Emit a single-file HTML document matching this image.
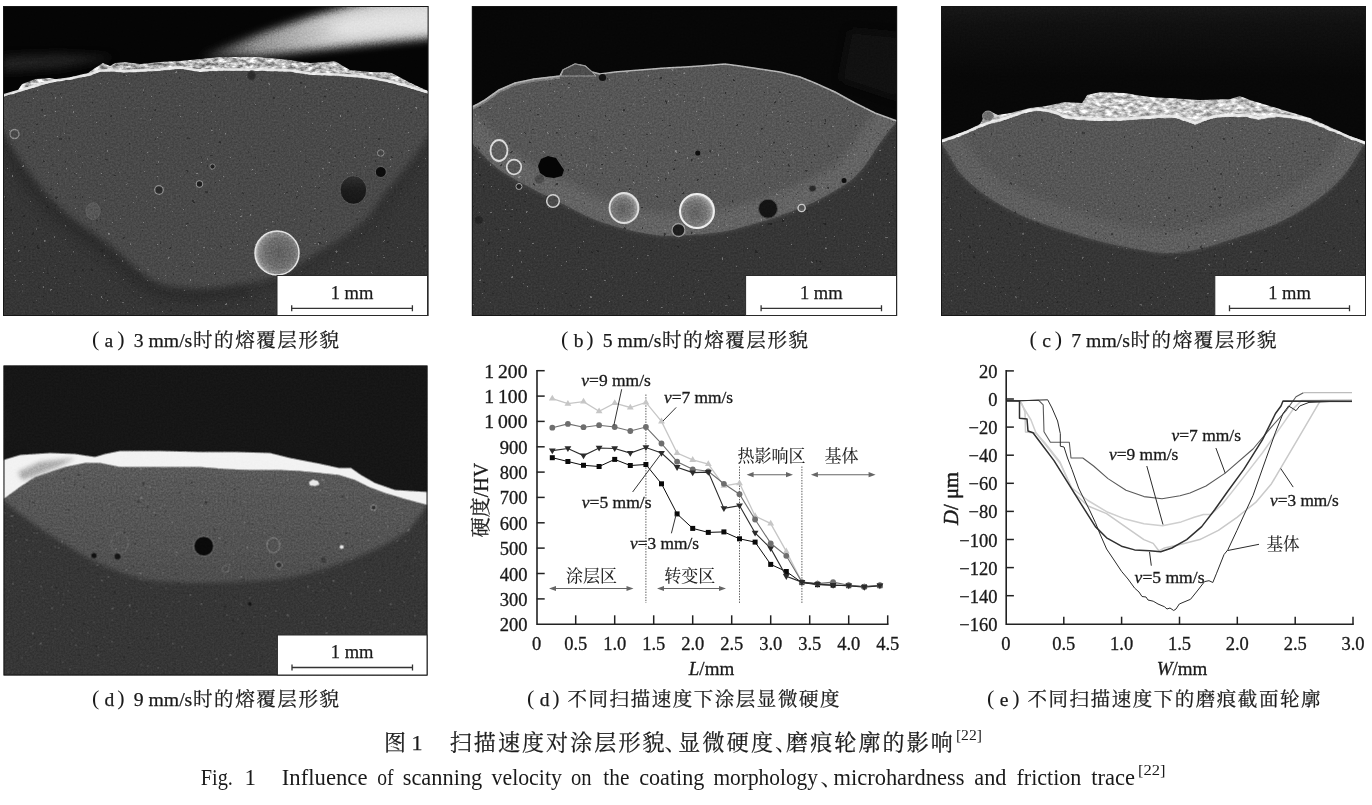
<!DOCTYPE html>
<html lang="zh"><head><meta charset="utf-8"><title>图1 扫描速度对涂层形貌、显微硬度、磨痕轮廓的影响</title>
<style>
html,body{margin:0;padding:0;background:#fff;}
body{width:1372px;height:805px;overflow:hidden;}
svg{display:block;}
text{font-family:"Liberation Serif","Noto Serif CJK SC",serif;fill:#1a1a1a;}
.it{font-style:italic;}
</style></head><body>
<svg width="1372" height="805" viewBox="0 0 1372 805">
<defs>
<clipPath id="clipA"><rect x="3" y="6" width="425.6" height="310"/></clipPath>
<clipPath id="clipB"><rect x="472" y="6" width="425" height="310"/></clipPath>
<clipPath id="clipC"><rect x="941" y="6" width="425" height="310"/></clipPath>
<clipPath id="clipD"><rect x="3.5" y="365.5" width="424" height="310"/></clipPath>
<linearGradient id="topC" x1="0" y1="0" x2="0" y2="1"><stop offset="0" stop-color="#181818"/><stop offset="0.25" stop-color="#111"/><stop offset="1" stop-color="#080808"/></linearGradient>
<linearGradient id="cladD" gradientUnits="userSpaceOnUse" x1="0" y1="465" x2="0" y2="585"><stop offset="0" stop-color="#5b5b5b"/><stop offset="0.6" stop-color="#535353"/><stop offset="1" stop-color="#4f4f4f"/></linearGradient>
<filter id="blur06" x="-5%" y="-50%" width="110%" height="200%"><feGaussianBlur stdDeviation="0.6"/></filter>
<filter id="blur2" x="-10%" y="-10%" width="120%" height="120%"><feGaussianBlur stdDeviation="2"/></filter>
<filter id="blur3" x="-10%" y="-10%" width="120%" height="120%"><feGaussianBlur stdDeviation="3"/></filter>
<filter id="blur4" x="-20%" y="-40%" width="140%" height="180%"><feGaussianBlur stdDeviation="4"/></filter>
<filter id="blur5" x="-20%" y="-40%" width="140%" height="180%"><feGaussianBlur stdDeviation="5"/></filter>
<filter id="mottle" x="0" y="0" width="100%" height="100%" color-interpolation-filters="sRGB">
 <feTurbulence type="fractalNoise" baseFrequency="0.16 0.3" numOctaves="3" seed="7" result="n"/>
 <feColorMatrix in="n" type="matrix" values="1.9 0 0 0 -0.42  1.9 0 0 0 -0.42  1.9 0 0 0 -0.42  0 0 0 0 1" result="g"/>
 <feBlend in="g" in2="SourceGraphic" mode="overlay" result="b"/>
 <feComposite in="b" in2="SourceGraphic" operator="in"/>
</filter>
<filter id="grain" x="0" y="0" width="100%" height="100%" color-interpolation-filters="sRGB">
 <feTurbulence type="fractalNoise" baseFrequency="0.55" numOctaves="2" seed="11" result="n"/>
 <feColorMatrix in="n" type="matrix" values="0.24 0 0 0 0.38  0.24 0 0 0 0.38  0.24 0 0 0 0.38  0 0 0 0 1" result="g"/>
 <feBlend in="g" in2="SourceGraphic" mode="overlay" result="b"/>
 <feComposite in="b" in2="SourceGraphic" operator="in"/>
</filter>
<filter id="specW" x="0" y="0" width="100%" height="100%" color-interpolation-filters="sRGB">
 <feTurbulence type="fractalNoise" baseFrequency="0.28" numOctaves="2" seed="5" result="n"/>
 <feColorMatrix in="n" type="matrix" values="0 0 0 0 0.8  0 0 0 0 0.8  0 0 0 0 0.8  30 0 0 0 -23.4" result="d"/>
 <feComposite in="d" in2="SourceGraphic" operator="in"/>
</filter>
<filter id="specK" x="0" y="0" width="100%" height="100%" color-interpolation-filters="sRGB">
 <feTurbulence type="fractalNoise" baseFrequency="0.22" numOctaves="2" seed="23" result="n"/>
 <feColorMatrix in="n" type="matrix" values="0 0 0 0 0.1  0 0 0 0 0.1  0 0 0 0 0.1  0 -30 0 0 6.9" result="d"/>
 <feComposite in="d" in2="SourceGraphic" operator="in"/>
</filter>
<radialGradient id="sphA" cx="0.55" cy="0.5" r="0.55"><stop offset="0" stop-color="#5e5e5e"/><stop offset="0.6" stop-color="#707070"/><stop offset="0.85" stop-color="#8c8c8c"/><stop offset="1" stop-color="#cfcfcf"/></radialGradient>
<linearGradient id="streakA" gradientUnits="userSpaceOnUse" x1="195" y1="0" x2="330" y2="0"><stop offset="0" stop-color="#4a4a4a" stop-opacity=".6"/><stop offset="0.45" stop-color="#969696" stop-opacity=".95"/><stop offset="1" stop-color="#cdcdcd"/></linearGradient>
<radialGradient id="sphB" cx="0.45" cy="0.55" r="0.55"><stop offset="0" stop-color="#606060"/><stop offset="0.65" stop-color="#787878"/><stop offset="0.88" stop-color="#9a9a9a"/><stop offset="1" stop-color="#d8d8d8"/></radialGradient>
<linearGradient id="holeA" x1="0" y1="0" x2="0" y2="1"><stop offset="0" stop-color="#303030"/><stop offset="0.5" stop-color="#1c1c1c"/><stop offset="1" stop-color="#161616"/></linearGradient>
</defs>
<rect width="1372" height="805" fill="#fff"/>
<g filter="url(#grain)"><g clip-path="url(#clipA)"><rect x="3" y="6" width="425" height="310" fill="#050505"/><path d="M3,56 L60,54 L115,57 L60,68 L3,72Z" fill="#2a2a2a" filter="url(#blur4)" opacity=".75"/><path d="M200,58 L223,48 L268,31 L313,16 L350,6 L380,0 L445,-4 L445,37 L380,43 L313,50 L260,56Z" fill="url(#streakA)" filter="url(#blur4)"/><path d="M325,30 L350,17 L390,10 L445,6 L445,31 L395,33 L350,37Z" fill="#fff" filter="url(#blur5)" opacity=".42"/><path d="M3,97 L20,92 L40,86 L55,82 L70,80 L90,76 L100,72 L115,72 L125,73 L140,72 L160,71 L180,69 L200,72 L220,71 L260,71 L290,72 L310,75 L335,76 L350,77 L370,79 L390,83 L405,87 L428,94 L428,316 L3,316Z" fill="#363636"/><clipPath id="bodyA"><path d="M3,97 L20,92 L40,86 L55,82 L70,80 L90,76 L100,72 L115,72 L125,73 L140,72 L160,71 L180,69 L200,72 L220,71 L260,71 L290,72 L310,75 L335,76 L350,77 L370,79 L390,83 L405,87 L428,94 L428,316 L3,316Z"/></clipPath><g clip-path="url(#bodyA)"><path d="M-12,112 C-9.5,115.5 -0.2,128.3 3,133 C6.2,137.7 3.8,134.3 7.5,140 C11.2,145.7 18.8,158.3 25,167 C31.2,175.7 38.4,184.5 45,192 C51.6,199.5 57.6,205.8 64.6,212 C71.6,218.2 79.1,223.2 87,229 C94.9,234.8 104.2,240.7 112,247 C119.8,253.3 127,261 134,266.7 C141,272.4 147.3,277.6 154,281 C160.7,284.4 164.5,285.8 174,287 C183.5,288.2 198.7,288.7 211,288 C223.3,287.3 241.8,283.8 248,283" fill="none" stroke="#2b2b2b" stroke-width="28" filter="url(#blur5)" opacity=".75"/><path d="M248,283 C252.5,282 266.2,280.3 275,277 C283.8,273.7 293.4,267.3 300.8,263 C308.2,258.7 312.7,255.3 319.7,251 C326.7,246.7 335.1,242.5 343,237 C350.9,231.5 360.2,225.1 367,218 C373.8,210.9 376.8,203.2 383.5,194.5 C390.2,185.8 399.9,175.1 407,166 C414.1,156.9 420.2,148.5 426,140 C431.8,131.5 439.3,119.2 442,115" fill="none" stroke="#2e2e2e" stroke-width="24" filter="url(#blur5)" opacity=".45"/><path d="M-12,112 C-9.5,115.5 -0.2,128.3 3,133 C6.2,137.7 3.8,134.3 7.5,140 C11.2,145.7 18.8,158.3 25,167 C31.2,175.7 38.4,184.5 45,192 C51.6,199.5 57.6,205.8 64.6,212 C71.6,218.2 79.1,223.2 87,229 C94.9,234.8 104.2,240.7 112,247 C119.8,253.3 127,261 134,266.7 C141,272.4 147.3,277.6 154,281 C160.7,284.4 164.5,285.8 174,287 C183.5,288.2 198.7,288.7 211,288 C223.3,287.3 237.3,284.8 248,283 C258.7,281.2 266.2,280.3 275,277 C283.8,273.7 293.4,267.3 300.8,263 C308.2,258.7 312.7,255.3 319.7,251 C326.7,246.7 335.1,242.5 343,237 C350.9,231.5 360.2,225.1 367,218 C373.8,210.9 376.8,203.2 383.5,194.5 C390.2,185.8 399.9,175.1 407,166 C414.1,156.9 420.2,148.5 426,140 C431.8,131.5 439.3,119.2 442,115 L442,0 L-12,0Z" fill="#4a4a4a" filter="url(#blur3)"/></g><path d="M3,97 L20,92 L40,86 L55,82 L70,80 L90,76 L100,72 L115,72 L125,73 L140,72 L160,71 L180,69 L200,72 L220,71 L260,71 L290,72 L310,75 L335,76 L350,77 L370,79 L390,83 L405,87 L428,94 L428,316 L3,316Z" fill="#fff" filter="url(#specW)" opacity=".38"/><path d="M3,97 L20,92 L40,86 L55,82 L70,80 L90,76 L100,72 L115,72 L125,73 L140,72 L160,71 L180,69 L200,72 L220,71 L260,71 L290,72 L310,75 L335,76 L350,77 L370,79 L390,83 L405,87 L428,94 L428,316 L3,316Z" fill="#fff" filter="url(#specK)" opacity=".5"/><path d="M3,96 L10,93 L18,90 L22,84 L35,79 L50,78 L60,80 L75,76 L88,73 L95,68 L103,63 L110,66 L115,63 L125,62 L140,64 L160,62 L180,61 L200,59 L220,57 L260,57 L290,60 L310,63 L325,62 L335,61 L343,66 L350,70 L370,72 L385,72 L392,73 L405,80 L415,85 L428,91 L428,94 L405,87 L390,83 L370,79 L350,77 L335,76 L310,75 L290,72 L260,71 L220,71 L200,72 L180,69 L160,71 L140,72 L125,73 L115,72 L100,72 L90,76 L70,80 L55,82 L40,86 L20,92 L3,97Z" fill="#b2b2b2" filter="url(#mottle)"/><path d="M3,95.4 L20,90.4 L40,84.4 L55,80.4 L70,78.4 L90,74.4 L100,70.4 L115,70.4 L125,71.4 L140,70.4 L160,69.4 L180,67.4 L200,70.4 L220,69.4 L260,69.4 L290,70.4 L310,73.4 L335,74.4 L350,75.4 L370,77.4 L390,81.4 L405,85.4 L428,92.4" fill="none" stroke="#ececec" stroke-width="2.2" filter="url(#blur06)" opacity=".9"/><ellipse cx="277" cy="253" rx="22" ry="22" fill="url(#sphA)" stroke="#e2e2e2" stroke-width="1.5" /><ellipse cx="353.4" cy="190" rx="13.3" ry="14.3" fill="url(#holeA)" stroke="#5a5a5a" stroke-width="0.8" /><ellipse cx="380.8" cy="172" rx="5.5" ry="5.5" fill="#0c0c0c" stroke="#6a6a6a" stroke-width="0.8" /><ellipse cx="380.8" cy="153" rx="3.3" ry="3.3" fill="#444" stroke="#8a8a8a" stroke-width="1" /><ellipse cx="14.5" cy="134" rx="4.5" ry="4.5" fill="#484848" stroke="#8a8a8a" stroke-width="1.3" /><ellipse cx="159" cy="190" rx="4.3" ry="4.3" fill="#2c2c2c" stroke="#8c8c8c" stroke-width="1.3" /><ellipse cx="199.5" cy="184" rx="3.2" ry="3.2" fill="#1e1e1e" stroke="#8c8c8c" stroke-width="1.1" /><ellipse cx="212.5" cy="166.5" rx="2.6" ry="2.6" fill="#222" stroke="#888" stroke-width="1" /><ellipse cx="251.5" cy="75.5" rx="4" ry="4.5" fill="#2c2c2c" stroke="#3a3a3a" stroke-width="1" /><ellipse cx="93" cy="211" rx="7" ry="8.5" fill="#575757" stroke="#5e5e5e" stroke-width="1" /></g><g clip-path="url(#clipB)"><rect x="472" y="6" width="425" height="310" fill="#070707"/><path d="M850,30 L900,35 L900,100 L840,80Z" fill="#141414" filter="url(#blur5)" opacity=".7"/><path d="M472,107 L478,104 L485,100 L499,90 L515,83 L534,79 L560,76 L563,70 L575,64 L585,66 L592,72 L600,74 L615,72 L640,70 L665,68 L685,67 L700,66 L725,64 L740,66 L760,69 L780,72 L800,77 L815,83 L835,92 L855,103 L875,113 L897,121 L897,316 L472,316Z" fill="#363636"/><clipPath id="bodyB"><path d="M472,107 L478,104 L485,100 L499,90 L515,83 L534,79 L560,76 L563,70 L575,64 L585,66 L592,72 L600,74 L615,72 L640,70 L665,68 L685,67 L700,66 L725,64 L740,66 L760,69 L780,72 L800,77 L815,83 L835,92 L855,103 L875,113 L897,121 L897,316 L472,316Z"/></clipPath><g clip-path="url(#bodyB)"><path d="M458,128 C460.3,130.5 469.2,139.9 472,143 C474.8,146.1 470.8,142.3 475,146.5 C479.2,150.7 488,161.2 497,168 C506,174.8 518.3,181.2 529,187 C539.7,192.8 550.3,197.7 561,203 C571.7,208.3 582.3,214.7 593,219 C603.7,223.3 614.5,226.3 625,229 C635.5,231.7 646.8,233.9 656,235 C665.2,236.1 669.2,236 680,235.5 C690.8,235 709.7,233.7 721,232 C732.3,230.3 739.8,227.7 748,225.5 C756.2,223.3 762.2,221.6 770,219 C777.8,216.4 787,213.2 795,210 C803,206.8 811.3,203.2 818,200 C824.7,196.8 829.7,193.7 835,190.5 C840.3,187.3 845.5,184.6 850,181 C854.5,177.4 858.3,173.3 862,169 C865.7,164.7 868.2,160.5 872,155 C875.8,149.5 880.8,141.7 885,136 C889.2,130.3 893.5,126 897,121 C900.5,116 904.5,108.5 906,106 L905,0 L460,0Z" fill="#575757" filter="url(#blur2)"/><clipPath id="bowlB"><path d="M458,128 C460.3,130.5 469.2,139.9 472,143 C474.8,146.1 470.8,142.3 475,146.5 C479.2,150.7 488,161.2 497,168 C506,174.8 518.3,181.2 529,187 C539.7,192.8 550.3,197.7 561,203 C571.7,208.3 582.3,214.7 593,219 C603.7,223.3 614.5,226.3 625,229 C635.5,231.7 646.8,233.9 656,235 C665.2,236.1 669.2,236 680,235.5 C690.8,235 709.7,233.7 721,232 C732.3,230.3 739.8,227.7 748,225.5 C756.2,223.3 762.2,221.6 770,219 C777.8,216.4 787,213.2 795,210 C803,206.8 811.3,203.2 818,200 C824.7,196.8 829.7,193.7 835,190.5 C840.3,187.3 845.5,184.6 850,181 C854.5,177.4 858.3,173.3 862,169 C865.7,164.7 868.2,160.5 872,155 C875.8,149.5 880.8,141.7 885,136 C889.2,130.3 893.5,126 897,121 C900.5,116 904.5,108.5 906,106 L905,0 L460,0Z"/></clipPath><g clip-path="url(#bowlB)"><path d="M458,128 C460.3,130.5 469.2,139.9 472,143 C474.8,146.1 470.8,142.3 475,146.5 C479.2,150.7 488,161.2 497,168 C506,174.8 518.3,181.2 529,187 C539.7,192.8 550.3,197.7 561,203 C571.7,208.3 582.3,214.7 593,219 C603.7,223.3 614.5,226.3 625,229 C635.5,231.7 646.8,233.9 656,235 C665.2,236.1 669.2,236 680,235.5 C690.8,235 709.7,233.7 721,232 C732.3,230.3 739.8,227.7 748,225.5 C756.2,223.3 762.2,221.6 770,219 C777.8,216.4 787,213.2 795,210 C803,206.8 811.3,203.2 818,200 C824.7,196.8 829.7,193.7 835,190.5 C840.3,187.3 845.5,184.6 850,181 C854.5,177.4 858.3,173.3 862,169 C865.7,164.7 868.2,160.5 872,155 C875.8,149.5 880.8,141.7 885,136 C889.2,130.3 893.5,126 897,121 C900.5,116 904.5,108.5 906,106" fill="none" stroke="#6a6a6a" stroke-width="44" filter="url(#blur5)" opacity=".7"/></g></g><path d="M472,107 L478,104 L485,100 L499,90 L515,83 L534,79 L560,76 L563,70 L575,64 L585,66 L592,72 L600,74 L615,72 L640,70 L665,68 L685,67 L700,66 L725,64 L740,66 L760,69 L780,72 L800,77 L815,83 L835,92 L855,103 L875,113 L897,121 L897,316 L472,316Z" fill="#fff" filter="url(#specW)" opacity=".38"/><path d="M472,107 L478,104 L485,100 L499,90 L515,83 L534,79 L560,76 L563,70 L575,64 L585,66 L592,72 L600,74 L615,72 L640,70 L665,68 L685,67 L700,66 L725,64 L740,66 L760,69 L780,72 L800,77 L815,83 L835,92 L855,103 L875,113 L897,121 L897,316 L472,316Z" fill="#fff" filter="url(#specK)" opacity=".6"/><path d="M472,108.2 L478,105.2 L485,101.2 L499,91.2 L515,84.2 L534,80.2 L560,77.2" fill="none" stroke="#8c8c8c" stroke-width="3.2" stroke-linejoin="round" opacity=".8"/><path d="M472,107 L478,104 L485,100 L499,90 L515,83 L534,79 L560,76 L563,70 L575,64 L585,66 L592,72 L600,74 L615,72 L640,70 L665,68 L685,67 L700,66 L725,64 L740,66 L760,69 L780,72 L800,77 L815,83 L835,92 L855,103 L875,113 L897,121" fill="none" stroke="#b5b5b5" stroke-width="1.6"/><path d="M561,76 L563,70 L575,64 L585,66 L592,72 L596,76Z" fill="#4c4c4c" stroke="#9a9a9a" stroke-width="1"/><circle cx="602.5" cy="77.5" r="3.6" fill="#111"/><ellipse cx="499" cy="150.5" rx="8.5" ry="10.5" fill="#5c5c5c" stroke="#dcdcdc" stroke-width="1.8" /><ellipse cx="514" cy="167" rx="7.3" ry="7.3" fill="#565656" stroke="#d8d8d8" stroke-width="1.7" /><path d="M541,159 L548,156 L556,158 L560,164 L564,170 L562,176 L554,178 L546,177 L540,173 L538,166Z" fill="#050505"/><ellipse cx="519" cy="186.5" rx="3" ry="3" fill="#222" stroke="#aaa" stroke-width="1" /><ellipse cx="553" cy="201" rx="6.3" ry="6.3" fill="#4a4a4a" stroke="#d0d0d0" stroke-width="1.5" /><ellipse cx="624" cy="208" rx="14.5" ry="15" fill="url(#sphB)" stroke="#e0e0e0" stroke-width="1.8" /><ellipse cx="697" cy="211" rx="17" ry="17" fill="url(#sphB)" stroke="#eeeeee" stroke-width="2" /><ellipse cx="678.5" cy="230" rx="6.5" ry="6.5" fill="#1e1e1e" stroke="#999" stroke-width="1.3" /><circle cx="478.7" cy="220" r="4" fill="#262626"/><ellipse cx="768" cy="208.7" rx="9.5" ry="9.5" fill="#141414" stroke="#4a4a4a" stroke-width="1" /><ellipse cx="801.6" cy="208" rx="3.6" ry="3.6" fill="#555" stroke="#ccc" stroke-width="1.4" /><ellipse cx="812.5" cy="188.5" rx="3.6" ry="3.2" fill="#2a2a2a" stroke="#555" stroke-width="0.8" /><circle cx="697.8" cy="153" r="2.6" fill="#0e0e0e"/><circle cx="844" cy="180.5" r="2.5" fill="#0e0e0e"/><circle cx="594" cy="139" r="3.5" fill="#505050"/><circle cx="539.5" cy="179" r="4.5" fill="#4a4a4a"/><circle cx="746" cy="169" r="5.5" fill="#5a5a5a"/></g><g clip-path="url(#clipC)"><rect x="941" y="6" width="425" height="310" fill="#080808"/><rect x="941" y="6" width="425" height="70" fill="url(#topC)"/><path d="M941,143 L950,140 L960,136.5 L970,132.5 L980,128 L990,124 L1000,122 L1010,118.5 L1020,115 L1030,112 L1040,111 L1050,113 L1056,114.5 L1065,119 L1091,121 L1120,121 L1150,119 L1175,118 L1195,125 L1215,118 L1245,117 L1258,120 L1278,117 L1290,118.5 L1300,120.5 L1310,123 L1320,127 L1330,131 L1340,135 L1350,139.5 L1366,145 L1366,316 L941,316Z" fill="#363636"/><clipPath id="bodyC"><path d="M941,143 L950,140 L960,136.5 L970,132.5 L980,128 L990,124 L1000,122 L1010,118.5 L1020,115 L1030,112 L1040,111 L1050,113 L1056,114.5 L1065,119 L1091,121 L1120,121 L1150,119 L1175,118 L1195,125 L1215,118 L1245,117 L1258,120 L1278,117 L1290,118.5 L1300,120.5 L1310,123 L1320,127 L1330,131 L1340,135 L1350,139.5 L1366,145 L1366,316 L941,316Z"/></clipPath><g clip-path="url(#bodyC)"><path d="M930,125 C931.8,128 938.3,138.8 941,143 C943.7,147.2 942.5,144.7 946,150 C949.5,155.3 955,167.2 962,175 C969,182.8 977.8,190.2 988,197 C998.2,203.8 1010.2,210.3 1023,216 C1035.8,221.7 1051.7,226.7 1065,231 C1078.3,235.3 1090.2,238.8 1103,242 C1115.8,245.2 1130.8,248.2 1142,250 C1153.2,251.8 1159.8,253.3 1170,253 C1180.2,252.7 1191.7,250.7 1203,248 C1214.3,245.3 1225.2,241.3 1238,237 C1250.8,232.7 1266.7,228.3 1280,222 C1293.3,215.7 1307.3,206.8 1318,199 C1328.7,191.2 1336.8,183.3 1344,175 C1351.2,166.7 1357.3,154.3 1361,149 C1364.7,143.7 1363.7,147 1366,143 C1368.3,139 1373.5,128 1375,125 L1375,0 L930,0Z" fill="#575757" filter="url(#blur2)"/><clipPath id="bowlC"><path d="M930,125 C931.8,128 938.3,138.8 941,143 C943.7,147.2 942.5,144.7 946,150 C949.5,155.3 955,167.2 962,175 C969,182.8 977.8,190.2 988,197 C998.2,203.8 1010.2,210.3 1023,216 C1035.8,221.7 1051.7,226.7 1065,231 C1078.3,235.3 1090.2,238.8 1103,242 C1115.8,245.2 1130.8,248.2 1142,250 C1153.2,251.8 1159.8,253.3 1170,253 C1180.2,252.7 1191.7,250.7 1203,248 C1214.3,245.3 1225.2,241.3 1238,237 C1250.8,232.7 1266.7,228.3 1280,222 C1293.3,215.7 1307.3,206.8 1318,199 C1328.7,191.2 1336.8,183.3 1344,175 C1351.2,166.7 1357.3,154.3 1361,149 C1364.7,143.7 1363.7,147 1366,143 C1368.3,139 1373.5,128 1375,125 L1375,0 L930,0Z"/></clipPath><g clip-path="url(#bowlC)"><path d="M930,125 C931.8,128 938.3,138.8 941,143 C943.7,147.2 942.5,144.7 946,150 C949.5,155.3 955,167.2 962,175 C969,182.8 977.8,190.2 988,197 C998.2,203.8 1010.2,210.3 1023,216 C1035.8,221.7 1051.7,226.7 1065,231 C1078.3,235.3 1090.2,238.8 1103,242 C1115.8,245.2 1130.8,248.2 1142,250 C1153.2,251.8 1159.8,253.3 1170,253 C1180.2,252.7 1191.7,250.7 1203,248 C1214.3,245.3 1225.2,241.3 1238,237 C1250.8,232.7 1266.7,228.3 1280,222 C1293.3,215.7 1307.3,206.8 1318,199 C1328.7,191.2 1336.8,183.3 1344,175 C1351.2,166.7 1357.3,154.3 1361,149 C1364.7,143.7 1363.7,147 1366,143 C1368.3,139 1373.5,128 1375,125" fill="none" stroke="#646464" stroke-width="44" filter="url(#blur5)" opacity=".7"/></g></g><path d="M941,143 L950,140 L960,136.5 L970,132.5 L980,128 L990,124 L1000,122 L1010,118.5 L1020,115 L1030,112 L1040,111 L1050,113 L1056,114.5 L1065,119 L1091,121 L1120,121 L1150,119 L1175,118 L1195,125 L1215,118 L1245,117 L1258,120 L1278,117 L1290,118.5 L1300,120.5 L1310,123 L1320,127 L1330,131 L1340,135 L1350,139.5 L1366,145 L1366,316 L941,316Z" fill="#fff" filter="url(#specW)" opacity=".3"/><path d="M941,143 L950,140 L960,136.5 L970,132.5 L980,128 L990,124 L1000,122 L1010,118.5 L1020,115 L1030,112 L1040,111 L1050,113 L1056,114.5 L1065,119 L1091,121 L1120,121 L1150,119 L1175,118 L1195,125 L1215,118 L1245,117 L1258,120 L1278,117 L1290,118.5 L1300,120.5 L1310,123 L1320,127 L1330,131 L1340,135 L1350,139.5 L1366,145 L1366,316 L941,316Z" fill="#fff" filter="url(#specK)" opacity=".5"/><path d="M941,141 L950,137 L960,133 L970,129 L980,124 L985,114 L990,111 L998,115 L1010,113 L1030,108 L1046,106 L1065,102 L1082,103 L1087,95 L1100,92 L1125,93 L1150,97 L1170,98 L1200,100 L1230,99 L1240,96 L1250,100 L1270,106 L1290,112 L1310,118 L1330,127 L1350,136 L1366,142 L1366,145 L1350,139.5 L1340,135 L1330,131 L1320,127 L1310,123 L1300,120.5 L1290,118.5 L1278,117 L1258,120 L1245,117 L1215,118 L1195,125 L1175,118 L1150,119 L1120,121 L1091,121 L1065,119 L1056,114.5 L1050,113 L1040,111 L1030,112 L1020,115 L1010,118.5 L1000,122 L990,124 L980,128 L970,132.5 L960,136.5 L950,140 L941,143Z" fill="#c2c2c2" filter="url(#mottle)"/><path d="M941,141 L950,138 L960,134.5 L970,130.5 L980,126 L990,122 L1000,120 L1010,116.5 L1020,113 L1030,110 L1040,109 L1050,111 L1056,112.5 L1065,117 L1091,119 L1120,119 L1150,117 L1175,116 L1195,123 L1215,116 L1245,115 L1258,118 L1278,115 L1290,116.5 L1300,118.5 L1310,121 L1320,125 L1330,129 L1340,133 L1350,137.5 L1366,143" fill="none" stroke="#f0f0f0" stroke-width="2.4" filter="url(#blur06)" opacity=".85"/><ellipse cx="988" cy="116" rx="5.5" ry="5" fill="#6e6e6e" stroke="#8a8a8a" stroke-width="1"/></g><g clip-path="url(#clipD)"><rect x="3" y="365" width="425" height="311" fill="#161616"/><path d="M3.5,499 L20,487 L35,477 L50,472 L65,467 L85,463 L100,463 L120,467 L140,467 L170,467 L200,467 L225,469 L250,470 L280,470 L300,471 L320,473 L339,475 L355,480 L369,487 L385,493 L405,499 L427.5,505 L427.5,676 L3.5,676Z" fill="#363636"/><clipPath id="bodyD"><path d="M3.5,499 L20,487 L35,477 L50,472 L65,467 L85,463 L100,463 L120,467 L140,467 L170,467 L200,467 L225,469 L250,470 L280,470 L300,471 L320,473 L339,475 L355,480 L369,487 L385,493 L405,499 L427.5,505 L427.5,676 L3.5,676Z"/></clipPath><g clip-path="url(#bodyD)"><path d="M-10,496 C-7.8,497 0.5,500.6 3.5,502 C6.5,503.4 1.8,500 8,504.5 C14.2,509 32,522.8 41,529 C50,535.2 53.2,536.7 62,542 C70.8,547.3 81.8,555.2 94,561 C106.2,566.8 122.5,573.5 135,577 C147.5,580.5 156.5,581.1 169,582 C181.5,582.9 196.3,582.7 210,582.5 C223.7,582.3 237.7,581.8 251,581 C264.3,580.2 277.2,579.8 290,577.5 C302.8,575.2 314.8,571.8 328,567.5 C341.2,563.2 357.8,556.8 369,552 C380.2,547.2 388.2,543 395,539 C401.8,535 404.6,533.7 410,528 C415.4,522.3 422.5,511.7 427.5,505 C432.5,498.3 437.9,490.8 440,488 L440,360 L-10,360Z" fill="url(#cladD)" filter="url(#blur2)"/></g><path d="M3.5,499 L20,487 L35,477 L50,472 L65,467 L85,463 L100,463 L120,467 L140,467 L170,467 L200,467 L225,469 L250,470 L280,470 L300,471 L320,473 L339,475 L355,480 L369,487 L385,493 L405,499 L427.5,505 L427.5,676 L3.5,676Z" fill="#fff" filter="url(#specW)" opacity=".35"/><path d="M3.5,499 L20,487 L35,477 L50,472 L65,467 L85,463 L100,463 L120,467 L140,467 L170,467 L200,467 L225,469 L250,470 L280,470 L300,471 L320,473 L339,475 L355,480 L369,487 L385,493 L405,499 L427.5,505 L427.5,676 L3.5,676Z" fill="#fff" filter="url(#specK)" opacity=".5"/><path d="M3.5,460 L20,455 L50,453 L75,454 L95,457 L105,454 L120,451 L160,451 L200,452 L236,452 L270,453 L290,458 L321,464 L339,468 L351,468 L361,475 L375,483 L395,490 L427.5,492 L427.5,505 L405,499 L385,493 L369,487 L355,480 L339,475 L320,473 L300,471 L280,470 L250,470 L225,469 L200,467 L170,467 L140,467 L120,467 L100,463 L85,463 L65,467 L50,472 L35,477 L20,487 L3.5,499Z" fill="#f2f2f2"/><path d="M18,472 L40,462 L75,458 L60,466 L35,476 L22,480Z" fill="#aaa" filter="url(#blur2)"/><ellipse cx="203.8" cy="546.2" rx="10" ry="10" fill="#0a0a0a" stroke="#777" stroke-width="1" /><ellipse cx="119.7" cy="543" rx="8.5" ry="10.5" fill="none" stroke="#6c6c6c" stroke-width="0.9" /><ellipse cx="273.4" cy="545.3" rx="6.5" ry="7.5" fill="none" stroke="#858585" stroke-width="1" /><circle cx="94" cy="555.6" r="2.6" fill="#101010"/><circle cx="117.5" cy="556.5" r="3" fill="#151515"/><ellipse cx="225.7" cy="569" rx="3.5" ry="3.5" fill="#4a4a4a" stroke="#777" stroke-width="0.9" /><ellipse cx="279" cy="565" rx="3.2" ry="3.2" fill="#333" stroke="#888" stroke-width="0.9" /><ellipse cx="373.7" cy="507.6" rx="2.8" ry="2.8" fill="#333" stroke="#999" stroke-width="1" /><circle cx="341.7" cy="547" r="2" fill="#e8e8e8"/><path d="M309,482 L313,479.5 L318,481 L319.5,484.5 L315,486 L310,485.5Z" fill="#e8e8e8"/><circle cx="250" cy="604" r="2" fill="#151515"/><circle cx="323.5" cy="560" r="2.5" fill="#3a3a3a"/></g></g><rect x="3.5" y="6.5" width="424.6" height="309" fill="none" stroke="#161616" stroke-width="1"/><rect x="472.3" y="6.5" width="424.4" height="309" fill="none" stroke="#161616" stroke-width="1"/><rect x="941.5" y="6.5" width="424" height="309" fill="none" stroke="#161616" stroke-width="1"/><rect x="4" y="366" width="423" height="309" fill="none" stroke="#161616" stroke-width="1"/><rect x="277" y="275.5" width="150.5" height="40" fill="#fff" stroke="#2a2a2a" stroke-width="1"/><path d="M291.2,308.3 H412.9 M291.7,305.3 V311.3 M412.4,305.3 V311.3" stroke="#333" stroke-width="1.3" fill="none"/><text x="352" y="298.7" font-size="18.5" text-anchor="middle" fill="#1a1a1a" stroke="#1a1a1a" stroke-width="0.25">1 mm</text><rect x="745.6" y="275.5" width="150.9" height="40" fill="#fff" stroke="#2a2a2a" stroke-width="1"/><path d="M760.6,308.3 H882 M761.1,305.3 V311.3 M881.5,305.3 V311.3" stroke="#333" stroke-width="1.3" fill="none"/><text x="821.3" y="298.7" font-size="18.5" text-anchor="middle" fill="#1a1a1a" stroke="#1a1a1a" stroke-width="0.25">1 mm</text><rect x="1214.8" y="275.5" width="150.7" height="40" fill="#fff" stroke="#2a2a2a" stroke-width="1"/><path d="M1229,308.3 H1350 M1229.5,305.3 V311.3 M1349.5,305.3 V311.3" stroke="#333" stroke-width="1.3" fill="none"/><text x="1289.5" y="298.7" font-size="18.5" text-anchor="middle" fill="#1a1a1a" stroke="#1a1a1a" stroke-width="0.25">1 mm</text><rect x="277.4" y="635" width="149.6" height="40" fill="#fff" stroke="#2a2a2a" stroke-width="1"/><path d="M291.5,667.5 H413 M292,664.5 V670.5 M412.5,664.5 V670.5" stroke="#333" stroke-width="1.3" fill="none"/><text x="352.2" y="658" font-size="18.5" text-anchor="middle" fill="#1a1a1a" stroke="#1a1a1a" stroke-width="0.25">1 mm</text>
<g><path d="M645.9,394.5 V603" stroke="#5a5a5a" stroke-width="1" stroke-dasharray="1.4 1.3" fill="none"/><path d="M739.5,466.5 V603" stroke="#5a5a5a" stroke-width="1" stroke-dasharray="1.4 1.3" fill="none"/><path d="M801.9,466.5 V603" stroke="#5a5a5a" stroke-width="1" stroke-dasharray="1.4 1.3" fill="none"/><path d="M537,369.9 V624.3 H888.5" stroke="#222" stroke-width="1.6" fill="none"/><path d="M536.7,370.7 h8" stroke="#222" stroke-width="1.5"/><text x="484.3" y="377.7" font-size="18.5" text-anchor="start" textLength="43.2" lengthAdjust="spacingAndGlyphs"  stroke="#1a1a1a" stroke-width="0.3">1&#8201;200</text><path d="M536.7,396.1 h8" stroke="#222" stroke-width="1.5"/><text x="484.3" y="403.1" font-size="18.5" text-anchor="start" textLength="43.2" lengthAdjust="spacingAndGlyphs"  stroke="#1a1a1a" stroke-width="0.3">1&#8201;100</text><path d="M536.7,421.4 h8" stroke="#222" stroke-width="1.5"/><text x="484.3" y="428.4" font-size="18.5" text-anchor="start" textLength="43.2" lengthAdjust="spacingAndGlyphs"  stroke="#1a1a1a" stroke-width="0.3">1&#8201;000</text><path d="M536.7,446.8 h8" stroke="#222" stroke-width="1.5"/><text x="527.5" y="453.8" font-size="18.5" text-anchor="end"  stroke="#1a1a1a" stroke-width="0.3">900</text><path d="M536.7,472.1 h8" stroke="#222" stroke-width="1.5"/><text x="527.5" y="479.1" font-size="18.5" text-anchor="end"  stroke="#1a1a1a" stroke-width="0.3">800</text><path d="M536.7,497.4 h8" stroke="#222" stroke-width="1.5"/><text x="527.5" y="504.4" font-size="18.5" text-anchor="end"  stroke="#1a1a1a" stroke-width="0.3">700</text><path d="M536.7,522.8 h8" stroke="#222" stroke-width="1.5"/><text x="527.5" y="529.8" font-size="18.5" text-anchor="end"  stroke="#1a1a1a" stroke-width="0.3">600</text><path d="M536.7,548.1 h8" stroke="#222" stroke-width="1.5"/><text x="527.5" y="555.1" font-size="18.5" text-anchor="end"  stroke="#1a1a1a" stroke-width="0.3">500</text><path d="M536.7,573.5 h8" stroke="#222" stroke-width="1.5"/><text x="527.5" y="580.5" font-size="18.5" text-anchor="end"  stroke="#1a1a1a" stroke-width="0.3">400</text><path d="M536.7,598.9 h8" stroke="#222" stroke-width="1.5"/><text x="527.5" y="605.9" font-size="18.5" text-anchor="end"  stroke="#1a1a1a" stroke-width="0.3">300</text><text x="527.5" y="631.2" font-size="18.5" text-anchor="end"  stroke="#1a1a1a" stroke-width="0.3">200</text><text x="536.7" y="649.5" font-size="18.5" text-anchor="middle"  stroke="#1a1a1a" stroke-width="0.3">0</text><path d="M575.7,624.3 v-9" stroke="#222" stroke-width="1.5"/><text x="575.7" y="649.5" font-size="18.5" text-anchor="middle"  stroke="#1a1a1a" stroke-width="0.3">0.5</text><path d="M614.7,624.3 v-9" stroke="#222" stroke-width="1.5"/><text x="614.7" y="649.5" font-size="18.5" text-anchor="middle"  stroke="#1a1a1a" stroke-width="0.3">1.0</text><path d="M653.7,624.3 v-9" stroke="#222" stroke-width="1.5"/><text x="653.7" y="649.5" font-size="18.5" text-anchor="middle"  stroke="#1a1a1a" stroke-width="0.3">1.5</text><path d="M692.7,624.3 v-9" stroke="#222" stroke-width="1.5"/><text x="692.7" y="649.5" font-size="18.5" text-anchor="middle"  stroke="#1a1a1a" stroke-width="0.3">2.0</text><path d="M731.7,624.3 v-9" stroke="#222" stroke-width="1.5"/><text x="731.7" y="649.5" font-size="18.5" text-anchor="middle"  stroke="#1a1a1a" stroke-width="0.3">2.5</text><path d="M770.7,624.3 v-9" stroke="#222" stroke-width="1.5"/><text x="770.7" y="649.5" font-size="18.5" text-anchor="middle"  stroke="#1a1a1a" stroke-width="0.3">3.0</text><path d="M809.7,624.3 v-9" stroke="#222" stroke-width="1.5"/><text x="809.7" y="649.5" font-size="18.5" text-anchor="middle"  stroke="#1a1a1a" stroke-width="0.3">3.5</text><path d="M848.7,624.3 v-9" stroke="#222" stroke-width="1.5"/><text x="848.7" y="649.5" font-size="18.5" text-anchor="middle"  stroke="#1a1a1a" stroke-width="0.3">4.0</text><path d="M887.7,624.3 v-9" stroke="#222" stroke-width="1.5"/><text x="887.7" y="649.5" font-size="18.5" text-anchor="middle"  stroke="#1a1a1a" stroke-width="0.3">4.5</text><text x="711.5" y="674.5" font-size="19" text-anchor="middle" stroke="#1a1a1a" stroke-width="0.3"><tspan class="it">L</tspan>/mm</text><text transform="translate(488,500) rotate(-90)" font-size="20" text-anchor="middle" stroke="#1a1a1a" stroke-width="0.3">硬度/HV</text><path d="M552.3,398.6 L567.9,403.7 L583.5,401.6 L599.1,411.3 L614.7,403.1 L630.3,407.5 L645.9,402.4 L661.5,421.4 L677.1,453.1 L692.7,459.9 L708.3,464 L723.9,485.8 L739.5,483.3 L755.1,516 L770.7,523.6 L786.3,551.4 L801.9,582.1 L817.5,583.6 L833.1,584.4 L848.7,585.2 L864.3,586.7 L879.9,585.2" stroke="#c6c6c6" stroke-width="1.3" fill="none"/><path d="M552.3,394.8 l3.4,5.8 h-6.8Z" fill="#c6c6c6"/><path d="M567.9,399.9 l3.4,5.8 h-6.8Z" fill="#c6c6c6"/><path d="M583.5,397.8 l3.4,5.8 h-6.8Z" fill="#c6c6c6"/><path d="M599.1,407.5 l3.4,5.8 h-6.8Z" fill="#c6c6c6"/><path d="M614.7,399.3 l3.4,5.8 h-6.8Z" fill="#c6c6c6"/><path d="M630.3,403.7 l3.4,5.8 h-6.8Z" fill="#c6c6c6"/><path d="M645.9,398.6 l3.4,5.8 h-6.8Z" fill="#c6c6c6"/><path d="M661.5,417.6 l3.4,5.8 h-6.8Z" fill="#c6c6c6"/><path d="M677.1,449.3 l3.4,5.8 h-6.8Z" fill="#c6c6c6"/><path d="M692.7,456.1 l3.4,5.8 h-6.8Z" fill="#c6c6c6"/><path d="M708.3,460.2 l3.4,5.8 h-6.8Z" fill="#c6c6c6"/><path d="M723.9,482 l3.4,5.8 h-6.8Z" fill="#c6c6c6"/><path d="M739.5,479.5 l3.4,5.8 h-6.8Z" fill="#c6c6c6"/><path d="M755.1,512.2 l3.4,5.8 h-6.8Z" fill="#c6c6c6"/><path d="M770.7,519.8 l3.4,5.8 h-6.8Z" fill="#c6c6c6"/><path d="M786.3,547.6 l3.4,5.8 h-6.8Z" fill="#c6c6c6"/><path d="M801.9,578.3 l3.4,5.8 h-6.8Z" fill="#c6c6c6"/><path d="M817.5,579.8 l3.4,5.8 h-6.8Z" fill="#c6c6c6"/><path d="M833.1,580.6 l3.4,5.8 h-6.8Z" fill="#c6c6c6"/><path d="M848.7,581.4 l3.4,5.8 h-6.8Z" fill="#c6c6c6"/><path d="M864.3,582.9 l3.4,5.8 h-6.8Z" fill="#c6c6c6"/><path d="M879.9,581.4 l3.4,5.8 h-6.8Z" fill="#c6c6c6"/><path d="M552.3,457.7 L567.9,461.5 L583.5,465.3 L599.1,466.5 L614.7,459.4 L630.3,465.5 L645.9,464.5 L661.5,483.8 L677.1,513.9 L692.7,528.4 L708.3,532.4 L723.9,531.9 L739.5,538.8 L755.1,542.1 L770.7,564.4 L786.3,571.5 L801.9,582.6 L817.5,584.7 L833.1,585.2 L848.7,585.7 L864.3,586.7 L879.9,585.7" stroke="#0a0a0a" stroke-width="1.0" fill="none"/><rect x="549.8" y="455.2" width="5" height="5" fill="#0a0a0a"/><rect x="565.4" y="459" width="5" height="5" fill="#0a0a0a"/><rect x="581" y="462.8" width="5" height="5" fill="#0a0a0a"/><rect x="596.6" y="464" width="5" height="5" fill="#0a0a0a"/><rect x="612.2" y="456.9" width="5" height="5" fill="#0a0a0a"/><rect x="627.8" y="463" width="5" height="5" fill="#0a0a0a"/><rect x="643.4" y="462" width="5" height="5" fill="#0a0a0a"/><rect x="659" y="481.3" width="5" height="5" fill="#0a0a0a"/><rect x="674.6" y="511.4" width="5" height="5" fill="#0a0a0a"/><rect x="690.2" y="525.9" width="5" height="5" fill="#0a0a0a"/><rect x="705.8" y="529.9" width="5" height="5" fill="#0a0a0a"/><rect x="721.4" y="529.4" width="5" height="5" fill="#0a0a0a"/><rect x="737" y="536.3" width="5" height="5" fill="#0a0a0a"/><rect x="752.6" y="539.6" width="5" height="5" fill="#0a0a0a"/><rect x="768.2" y="561.9" width="5" height="5" fill="#0a0a0a"/><rect x="783.8" y="569" width="5" height="5" fill="#0a0a0a"/><rect x="799.4" y="580.1" width="5" height="5" fill="#0a0a0a"/><rect x="815" y="582.2" width="5" height="5" fill="#0a0a0a"/><rect x="830.6" y="582.7" width="5" height="5" fill="#0a0a0a"/><rect x="846.2" y="583.2" width="5" height="5" fill="#0a0a0a"/><rect x="861.8" y="584.2" width="5" height="5" fill="#0a0a0a"/><rect x="877.4" y="583.2" width="5" height="5" fill="#0a0a0a"/><path d="M552.3,427.7 L567.9,423.9 L583.5,427.2 L599.1,425.2 L614.7,427 L630.3,431 L645.9,427 L661.5,443.5 L677.1,461.7 L692.7,469.3 L708.3,471.3 L723.9,483.8 L739.5,494.2 L755.1,519.5 L770.7,543.3 L786.3,555.8 L801.9,582.1 L817.5,583.6 L833.1,582.1 L848.7,585.2 L864.3,586.7 L879.9,585.2" stroke="#6e6e6e" stroke-width="1.1" fill="none"/><circle cx="552.3" cy="427.7" r="2.9" fill="#6e6e6e"/><circle cx="567.9" cy="423.9" r="2.9" fill="#6e6e6e"/><circle cx="583.5" cy="427.2" r="2.9" fill="#6e6e6e"/><circle cx="599.1" cy="425.2" r="2.9" fill="#6e6e6e"/><circle cx="614.7" cy="427" r="2.9" fill="#6e6e6e"/><circle cx="630.3" cy="431" r="2.9" fill="#6e6e6e"/><circle cx="645.9" cy="427" r="2.9" fill="#6e6e6e"/><circle cx="661.5" cy="443.5" r="2.9" fill="#6e6e6e"/><circle cx="677.1" cy="461.7" r="2.9" fill="#6e6e6e"/><circle cx="692.7" cy="469.3" r="2.9" fill="#6e6e6e"/><circle cx="708.3" cy="471.3" r="2.9" fill="#6e6e6e"/><circle cx="723.9" cy="483.8" r="2.9" fill="#6e6e6e"/><circle cx="739.5" cy="494.2" r="2.9" fill="#6e6e6e"/><circle cx="755.1" cy="519.5" r="2.9" fill="#6e6e6e"/><circle cx="770.7" cy="543.3" r="2.9" fill="#6e6e6e"/><circle cx="786.3" cy="555.8" r="2.9" fill="#6e6e6e"/><circle cx="801.9" cy="582.1" r="2.9" fill="#6e6e6e"/><circle cx="817.5" cy="583.6" r="2.9" fill="#6e6e6e"/><circle cx="833.1" cy="582.1" r="2.9" fill="#6e6e6e"/><circle cx="848.7" cy="585.2" r="2.9" fill="#6e6e6e"/><circle cx="864.3" cy="586.7" r="2.9" fill="#6e6e6e"/><circle cx="879.9" cy="585.2" r="2.9" fill="#6e6e6e"/><path d="M552.3,450.6 L567.9,448.5 L583.5,455.6 L599.1,448 L614.7,448.5 L630.3,453.1 L645.9,447.5 L661.5,453.1 L677.1,467.3 L692.7,472.6 L708.3,472.1 L723.9,508.4 L739.5,505.6 L755.1,532.9 L770.7,548.4 L786.3,576.3 L801.9,582.1 L817.5,584.1 L833.1,585.2 L848.7,585.7 L864.3,587.2 L879.9,585.7" stroke="#2b2b2b" stroke-width="1.1" fill="none"/><path d="M552.3,454.2 l-3.4,-5.8 h6.8Z" fill="#2b2b2b"/><path d="M567.9,452.1 l-3.4,-5.8 h6.8Z" fill="#2b2b2b"/><path d="M583.5,459.2 l-3.4,-5.8 h6.8Z" fill="#2b2b2b"/><path d="M599.1,451.6 l-3.4,-5.8 h6.8Z" fill="#2b2b2b"/><path d="M614.7,452.1 l-3.4,-5.8 h6.8Z" fill="#2b2b2b"/><path d="M630.3,456.7 l-3.4,-5.8 h6.8Z" fill="#2b2b2b"/><path d="M645.9,451.1 l-3.4,-5.8 h6.8Z" fill="#2b2b2b"/><path d="M661.5,456.7 l-3.4,-5.8 h6.8Z" fill="#2b2b2b"/><path d="M677.1,470.9 l-3.4,-5.8 h6.8Z" fill="#2b2b2b"/><path d="M692.7,476.2 l-3.4,-5.8 h6.8Z" fill="#2b2b2b"/><path d="M708.3,475.7 l-3.4,-5.8 h6.8Z" fill="#2b2b2b"/><path d="M723.9,512 l-3.4,-5.8 h6.8Z" fill="#2b2b2b"/><path d="M739.5,509.2 l-3.4,-5.8 h6.8Z" fill="#2b2b2b"/><path d="M755.1,536.5 l-3.4,-5.8 h6.8Z" fill="#2b2b2b"/><path d="M770.7,552 l-3.4,-5.8 h6.8Z" fill="#2b2b2b"/><path d="M786.3,579.9 l-3.4,-5.8 h6.8Z" fill="#2b2b2b"/><path d="M801.9,585.7 l-3.4,-5.8 h6.8Z" fill="#2b2b2b"/><path d="M817.5,587.7 l-3.4,-5.8 h6.8Z" fill="#2b2b2b"/><path d="M833.1,588.8 l-3.4,-5.8 h6.8Z" fill="#2b2b2b"/><path d="M848.7,589.3 l-3.4,-5.8 h6.8Z" fill="#2b2b2b"/><path d="M864.3,590.8 l-3.4,-5.8 h6.8Z" fill="#2b2b2b"/><path d="M879.9,589.3 l-3.4,-5.8 h6.8Z" fill="#2b2b2b"/><text x="581.3" y="385.6" font-size="16.5" textLength="69.5" lengthAdjust="spacingAndGlyphs" stroke="#1a1a1a" stroke-width="0.3"><tspan class="it">v</tspan>=9 mm/s</text><text x="664" y="403.3" font-size="16.5" textLength="69" lengthAdjust="spacingAndGlyphs" stroke="#1a1a1a" stroke-width="0.3"><tspan class="it">v</tspan>=7 mm/s</text><text x="581.8" y="507.9" font-size="16.5" textLength="69.7" lengthAdjust="spacingAndGlyphs" stroke="#1a1a1a" stroke-width="0.3"><tspan class="it">v</tspan>=5 mm/s</text><text x="630" y="548.5" font-size="16.5" textLength="69" lengthAdjust="spacingAndGlyphs" stroke="#1a1a1a" stroke-width="0.3"><tspan class="it">v</tspan>=3 mm/s</text><path d="M621.7,389.2 L613.8,425.5 M676.2,407.4 L663,421 M632.6,492 L660.5,454.6 M671.4,533.3 L676,515" stroke="#333" stroke-width="1" fill="none"/><text x="591.4" y="581.5" font-size="17.5" text-anchor="middle" textLength="51" lengthAdjust="spacingAndGlyphs" fill="#222" stroke="#1a1a1a" stroke-width="0.1">涂层区</text><text x="689.7" y="581.5" font-size="17.5" text-anchor="middle" textLength="51" lengthAdjust="spacingAndGlyphs" fill="#222" stroke="#1a1a1a" stroke-width="0.1">转变区</text><text x="771.5" y="461.5" font-size="17.5" text-anchor="middle" textLength="68" lengthAdjust="spacingAndGlyphs" fill="#222" stroke="#1a1a1a" stroke-width="0.1">热影响区</text><text x="841.5" y="461.5" font-size="17.5" text-anchor="middle" textLength="34" lengthAdjust="spacingAndGlyphs" fill="#222" stroke="#1a1a1a" stroke-width="0.1">基体</text><path d="M552,588.5 H630.5" stroke="#666" stroke-width="1.1" fill="none"/><path d="M549,588.5 l7,-2.6 v5.2Z M633.5,588.5 l-7,-2.6 v5.2Z" fill="#666"/><path d="M660,588.5 H723" stroke="#666" stroke-width="1.1" fill="none"/><path d="M657,588.5 l7,-2.6 v5.2Z M726,588.5 l-7,-2.6 v5.2Z" fill="#666"/><path d="M749.6,474.7 H790" stroke="#666" stroke-width="1.1" fill="none"/><path d="M746.6,474.7 l7,-2.6 v5.2Z M793,474.7 l-7,-2.6 v5.2Z" fill="#666"/><path d="M813.9,474.7 H872.6" stroke="#666" stroke-width="1.1" fill="none"/><path d="M810.9,474.7 l7,-2.6 v5.2Z M875.6,474.7 l-7,-2.6 v5.2Z" fill="#666"/></g>
<g><path d="M1006,400.5 L1019.5,400.8 L1022,404 L1025,412 L1025.5,432 L1036,433 L1045,444 L1060,463 L1074,493 L1088,506 L1106.6,513.6 L1125.2,526.6 L1143.9,539.6 L1153.2,543.4 L1158.8,550.8 L1164.4,548 L1181.2,544.3 L1199.8,539.6 L1218.4,530.3 L1237,517.3 L1255.7,502.4 L1271.5,483.7 L1281,467.6 L1299.7,435.9 L1318.3,404.2 L1320.5,400.5 L1352,400.3" stroke="#c9c9c9" stroke-width="1.5" fill="none" stroke-linejoin="round"/><path d="M1019.5,400.8 L1025,410 L1031,420 L1036,433 L1045,443 L1060,462 L1071.2,487.5 L1088,500.5 L1106.6,511.7 L1125.2,519.1 L1143.9,523.8 L1162.5,525.7 L1181.2,521.9 L1194.2,517.3 L1203.5,514.5 L1211,514.5 L1222.2,504.2 L1237,485.6 L1243.8,476.9 L1262.5,452.7 L1281,426.6 L1294,408 L1301.6,400.5 L1352,400" stroke="#cfcfcf" stroke-width="1.5" fill="none" stroke-linejoin="round"/><path d="M1006,400.8 L1019.5,400.8 L1038.7,400.3 L1043.2,404.8 L1044,431.8 L1050.4,442.3 L1069.3,442.3 L1071,458 L1082.8,458 L1093.6,466 L1108,478.6 L1126,490.3 L1144,496.6 L1162,498.8 L1180,495.7 L1190,493 L1206,486 L1225.2,473.1 L1253,449 L1271.8,426.6 L1286.7,409.8 L1296,396.8 L1303.4,392.7" stroke="#5a5a5a" stroke-width="1.1" fill="none" stroke-linejoin="round"/><path d="M1303.4,392.7 H1352" stroke="#bdbdbd" stroke-width="1.3" fill="none"/><path d="M1006,400.5 L1019.5,400.8 L1035,400.2 L1047.7,399.8 L1052,408 L1057.6,421 L1060.3,433.6 L1060.3,446.2 L1064,447 L1067.5,458 L1072,469.6 L1078.6,488 L1081,493 L1090,511 L1095.4,522.6 L1100,534 L1106.6,549 L1114,560 L1121.5,571.3 L1128,579 L1134.6,588.1 L1139,592 L1142,596.5 L1146,597 L1148,600 L1153.2,601.2 L1158,604 L1164.4,606.7 L1167,609 L1170,608 L1173.7,610.5 L1176,609 L1179.3,604 L1184,602 L1190.5,599.3 L1194,595 L1198,590 L1204.5,581.6 L1209,580.7 L1212.8,582.5 L1216.6,573.2 L1224,554.6 L1227.8,549.9 L1237,530.3 L1246.4,509.8 L1253,495.5 L1266.2,458.2 L1275.5,432.2 L1283,413.5 L1288.5,406 L1292,408 L1296,410.7 L1299.7,406 L1309,402.4 L1330,401.6 L1352,401.6" stroke="#2a2a2a" stroke-width="1" fill="none" stroke-linejoin="round"/><path d="M1006,401 L1019.5,401 L1019.5,418.3 L1027,419 L1028,431 L1033,432.7 L1043,446 L1054,460.6 L1072,489.4 L1081,503.9 L1095.4,526.6 L1106.6,537.8 L1121.5,546.2 L1134.6,549.9 L1149.5,550.8 L1160.7,551.8 L1171.8,548 L1186.7,539.6 L1201.7,526.6 L1214.7,509.8 L1227.8,491.2 L1243.8,469.4 L1262.5,439.6 L1275.5,413.5 L1281,406 L1283,401 L1352,401.2" stroke="#303030" stroke-width="1.5" fill="none" stroke-linejoin="round"/><path d="M1006.2,369.9 V624.2 H1353.8" stroke="#222" stroke-width="1.6" fill="none"/><path d="M1005.9,370.9 h8" stroke="#222" stroke-width="1.5"/><text x="997.5" y="377.9" font-size="18.5" text-anchor="end"  stroke="#1a1a1a" stroke-width="0.3">20</text><path d="M1005.9,399 h8" stroke="#222" stroke-width="1.5"/><text x="997.5" y="406" font-size="18.5" text-anchor="end"  stroke="#1a1a1a" stroke-width="0.3">0</text><path d="M1005.9,427.1 h8" stroke="#222" stroke-width="1.5"/><text x="997.5" y="434.1" font-size="18.5" text-anchor="end"  stroke="#1a1a1a" stroke-width="0.3">&#8722;20</text><path d="M1005.9,455.2 h8" stroke="#222" stroke-width="1.5"/><text x="997.5" y="462.2" font-size="18.5" text-anchor="end"  stroke="#1a1a1a" stroke-width="0.3">&#8722;40</text><path d="M1005.9,483.3 h8" stroke="#222" stroke-width="1.5"/><text x="997.5" y="490.3" font-size="18.5" text-anchor="end"  stroke="#1a1a1a" stroke-width="0.3">&#8722;60</text><path d="M1005.9,511.4 h8" stroke="#222" stroke-width="1.5"/><text x="997.5" y="518.4" font-size="18.5" text-anchor="end"  stroke="#1a1a1a" stroke-width="0.3">&#8722;80</text><path d="M1005.9,539.5 h8" stroke="#222" stroke-width="1.5"/><text x="997.5" y="546.5" font-size="18.5" text-anchor="end"  stroke="#1a1a1a" stroke-width="0.3">&#8722;100</text><path d="M1005.9,567.6 h8" stroke="#222" stroke-width="1.5"/><text x="997.5" y="574.6" font-size="18.5" text-anchor="end"  stroke="#1a1a1a" stroke-width="0.3">&#8722;120</text><path d="M1005.9,595.7 h8" stroke="#222" stroke-width="1.5"/><text x="997.5" y="602.7" font-size="18.5" text-anchor="end"  stroke="#1a1a1a" stroke-width="0.3">&#8722;140</text><text x="997.5" y="630.8" font-size="18.5" text-anchor="end"  stroke="#1a1a1a" stroke-width="0.3">&#8722;160</text><text x="1005.9" y="649.6" font-size="18.5" text-anchor="middle"  stroke="#1a1a1a" stroke-width="0.3">0</text><path d="M1063.8,624.2 v-7.5" stroke="#222" stroke-width="1.5"/><text x="1063.8" y="649.6" font-size="18.5" text-anchor="middle"  stroke="#1a1a1a" stroke-width="0.3">0.5</text><path d="M1121.6,624.2 v-7.5" stroke="#222" stroke-width="1.5"/><text x="1121.6" y="649.6" font-size="18.5" text-anchor="middle"  stroke="#1a1a1a" stroke-width="0.3">1.0</text><path d="M1179.5,624.2 v-7.5" stroke="#222" stroke-width="1.5"/><text x="1179.5" y="649.6" font-size="18.5" text-anchor="middle"  stroke="#1a1a1a" stroke-width="0.3">1.5</text><path d="M1237.3,624.2 v-7.5" stroke="#222" stroke-width="1.5"/><text x="1237.3" y="649.6" font-size="18.5" text-anchor="middle"  stroke="#1a1a1a" stroke-width="0.3">2.0</text><path d="M1295.2,624.2 v-7.5" stroke="#222" stroke-width="1.5"/><text x="1295.2" y="649.6" font-size="18.5" text-anchor="middle"  stroke="#1a1a1a" stroke-width="0.3">2.5</text><path d="M1353,624.2 v-7.5" stroke="#222" stroke-width="1.5"/><text x="1353" y="649.6" font-size="18.5" text-anchor="middle"  stroke="#1a1a1a" stroke-width="0.3">3.0</text><text x="1182" y="674.6" font-size="19" text-anchor="middle" stroke="#1a1a1a" stroke-width="0.3"><tspan class="it">W</tspan>/mm</text><text transform="translate(957.5,498.5) rotate(-90)" font-size="20.5" text-anchor="middle" textLength="53" lengthAdjust="spacing" stroke="#1a1a1a" stroke-width="0.5"><tspan class="it">D</tspan>/ &#956;m</text><text x="1171.5" y="440.5" font-size="16.5" textLength="69.5" lengthAdjust="spacingAndGlyphs" stroke="#1a1a1a" stroke-width="0.3"><tspan class="it">v</tspan>=7 mm/s</text><text x="1109" y="459.7" font-size="16.5" textLength="69.3" lengthAdjust="spacingAndGlyphs" stroke="#1a1a1a" stroke-width="0.3"><tspan class="it">v</tspan>=9 mm/s</text><text x="1270" y="506.3" font-size="16.5" textLength="68.8" lengthAdjust="spacingAndGlyphs" stroke="#1a1a1a" stroke-width="0.3"><tspan class="it">v</tspan>=3 mm/s</text><text x="1134.6" y="583" font-size="16.5" textLength="69.9" lengthAdjust="spacingAndGlyphs" stroke="#1a1a1a" stroke-width="0.3"><tspan class="it">v</tspan>=5 mm/s</text><text x="1266.5" y="549.5" font-size="16.5" text-anchor="start" fill="#222" stroke="#1a1a1a" stroke-width="0.1">基体</text><path d="M1215.9,448 L1225.2,473.1 M1146.8,466 L1163,524.6 M1280.7,468.5 L1293.2,487.1 M1149.5,551.8 L1151.3,565.7 M1227.8,550.5 L1259,544.3" stroke="#2a2a2a" stroke-width="1" fill="none"/></g>
<g><text y="345.6" font-size="22"><tspan x="91.9">(</tspan><tspan x="117.2">)</tspan></text><text x="104.6" y="347.2" font-size="19.5" stroke="#1a1a1a" stroke-width="0.25">a</text><text x="133.7" y="347.2" font-size="19.5" textLength="58.6" lengthAdjust="spacingAndGlyphs" stroke="#1a1a1a" stroke-width="0.25">3 mm/s</text><text x="193" y="347.2" font-size="19.5" textLength="146" lengthAdjust="spacing" stroke="#1a1a1a" stroke-width="0.25">时的熔覆层形貌</text><text y="345.6" font-size="22"><tspan x="561">(</tspan><tspan x="586.3">)</tspan></text><text x="573.7" y="347.2" font-size="19.5" stroke="#1a1a1a" stroke-width="0.25">b</text><text x="602.8" y="347.2" font-size="19.5" textLength="58.6" lengthAdjust="spacingAndGlyphs" stroke="#1a1a1a" stroke-width="0.25">5 mm/s</text><text x="662" y="347.2" font-size="19.5" textLength="146" lengthAdjust="spacing" stroke="#1a1a1a" stroke-width="0.25">时的熔覆层形貌</text><text y="345.6" font-size="22"><tspan x="1029.5">(</tspan><tspan x="1054.8">)</tspan></text><text x="1042.2" y="347.2" font-size="19.5" stroke="#1a1a1a" stroke-width="0.25">c</text><text x="1071.3" y="347.2" font-size="19.5" textLength="58.6" lengthAdjust="spacingAndGlyphs" stroke="#1a1a1a" stroke-width="0.25">7 mm/s</text><text x="1130.5" y="347.2" font-size="19.5" textLength="146" lengthAdjust="spacing" stroke="#1a1a1a" stroke-width="0.25">时的熔覆层形貌</text><text y="704.6" font-size="22"><tspan x="91.9">(</tspan><tspan x="117.2">)</tspan></text><text x="104.6" y="706.2" font-size="19.5" stroke="#1a1a1a" stroke-width="0.25">d</text><text x="133.7" y="706.2" font-size="19.5" textLength="58.6" lengthAdjust="spacingAndGlyphs" stroke="#1a1a1a" stroke-width="0.25">9 mm/s</text><text x="193" y="706.2" font-size="19.5" textLength="146" lengthAdjust="spacing" stroke="#1a1a1a" stroke-width="0.25">时的熔覆层形貌</text><text y="704.6" font-size="22"><tspan x="527">(</tspan><tspan x="552.3">)</tspan></text><text x="539.7" y="706.2" font-size="19.5" stroke="#1a1a1a" stroke-width="0.25">d</text><text x="567.5" y="706.2" font-size="19.5" textLength="272" lengthAdjust="spacing" stroke="#1a1a1a" stroke-width="0.25">不同扫描速度下涂层显微硬度</text><text y="704.6" font-size="22"><tspan x="987">(</tspan><tspan x="1012.3">)</tspan></text><text x="999.7" y="706.2" font-size="19.5" stroke="#1a1a1a" stroke-width="0.25">e</text><text x="1027.5" y="706.2" font-size="19.5" textLength="293" lengthAdjust="spacing" stroke="#1a1a1a" stroke-width="0.25">不同扫描速度下的磨痕截面轮廓</text><text x="384" y="749.5" font-size="22" textLength="38.5" lengthAdjust="spacing" stroke="#1a1a1a" stroke-width="0.25">图 1</text><text x="449.7" y="749.5" font-size="22" textLength="214.8" lengthAdjust="spacing" stroke="#1a1a1a" stroke-width="0.25">扫描速度对涂层形貌</text><text x="678.3" y="749.5" font-size="22" textLength="94.6" lengthAdjust="spacing" stroke="#1a1a1a" stroke-width="0.25">显微硬度</text><text x="786" y="749.5" font-size="22" textLength="166.8" lengthAdjust="spacing" stroke="#1a1a1a" stroke-width="0.25">磨痕轮廓的影响</text><text x="664.5" y="749.5" font-size="22">、</text><text x="775" y="749.5" font-size="22">、</text><text x="955.9" y="739.5" font-size="14" textLength="26" lengthAdjust="spacingAndGlyphs">[22]</text><text x="200.7" y="785" font-size="23" textLength="32.2" lengthAdjust="spacingAndGlyphs">Fig.</text><text x="244.6" y="785" font-size="23">1</text><text x="281.8" y="785" font-size="23" textLength="85.7" lengthAdjust="spacingAndGlyphs">Influence</text><text x="377.3" y="785" font-size="23" textLength="16.3" lengthAdjust="spacingAndGlyphs">of</text><text x="402.7" y="785" font-size="23" textLength="79.6" lengthAdjust="spacingAndGlyphs">scanning</text><text x="491.5" y="785" font-size="23" textLength="70.4" lengthAdjust="spacingAndGlyphs">velocity</text><text x="571" y="785" font-size="23" textLength="20.6" lengthAdjust="spacingAndGlyphs">on</text><text x="603.3" y="785" font-size="23" textLength="26.1" lengthAdjust="spacingAndGlyphs">the</text><text x="639.2" y="785" font-size="23" textLength="65.2" lengthAdjust="spacingAndGlyphs">coating</text><text x="713.5" y="785" font-size="23" textLength="104.5" lengthAdjust="spacingAndGlyphs">morphology</text><text x="833.5" y="785" font-size="23" textLength="131" lengthAdjust="spacingAndGlyphs">microhardness</text><text x="974.3" y="785" font-size="23" textLength="32.1" lengthAdjust="spacingAndGlyphs">and</text><text x="1016.5" y="785" font-size="23" textLength="64.9" lengthAdjust="spacingAndGlyphs">friction</text><text x="1091.2" y="785" font-size="23" textLength="43.8" lengthAdjust="spacingAndGlyphs">trace</text><text x="820.5" y="785" font-size="22">、</text><text x="1138" y="775" font-size="14" textLength="27.5" lengthAdjust="spacingAndGlyphs">[22]</text></g>
</svg>
</body></html>
